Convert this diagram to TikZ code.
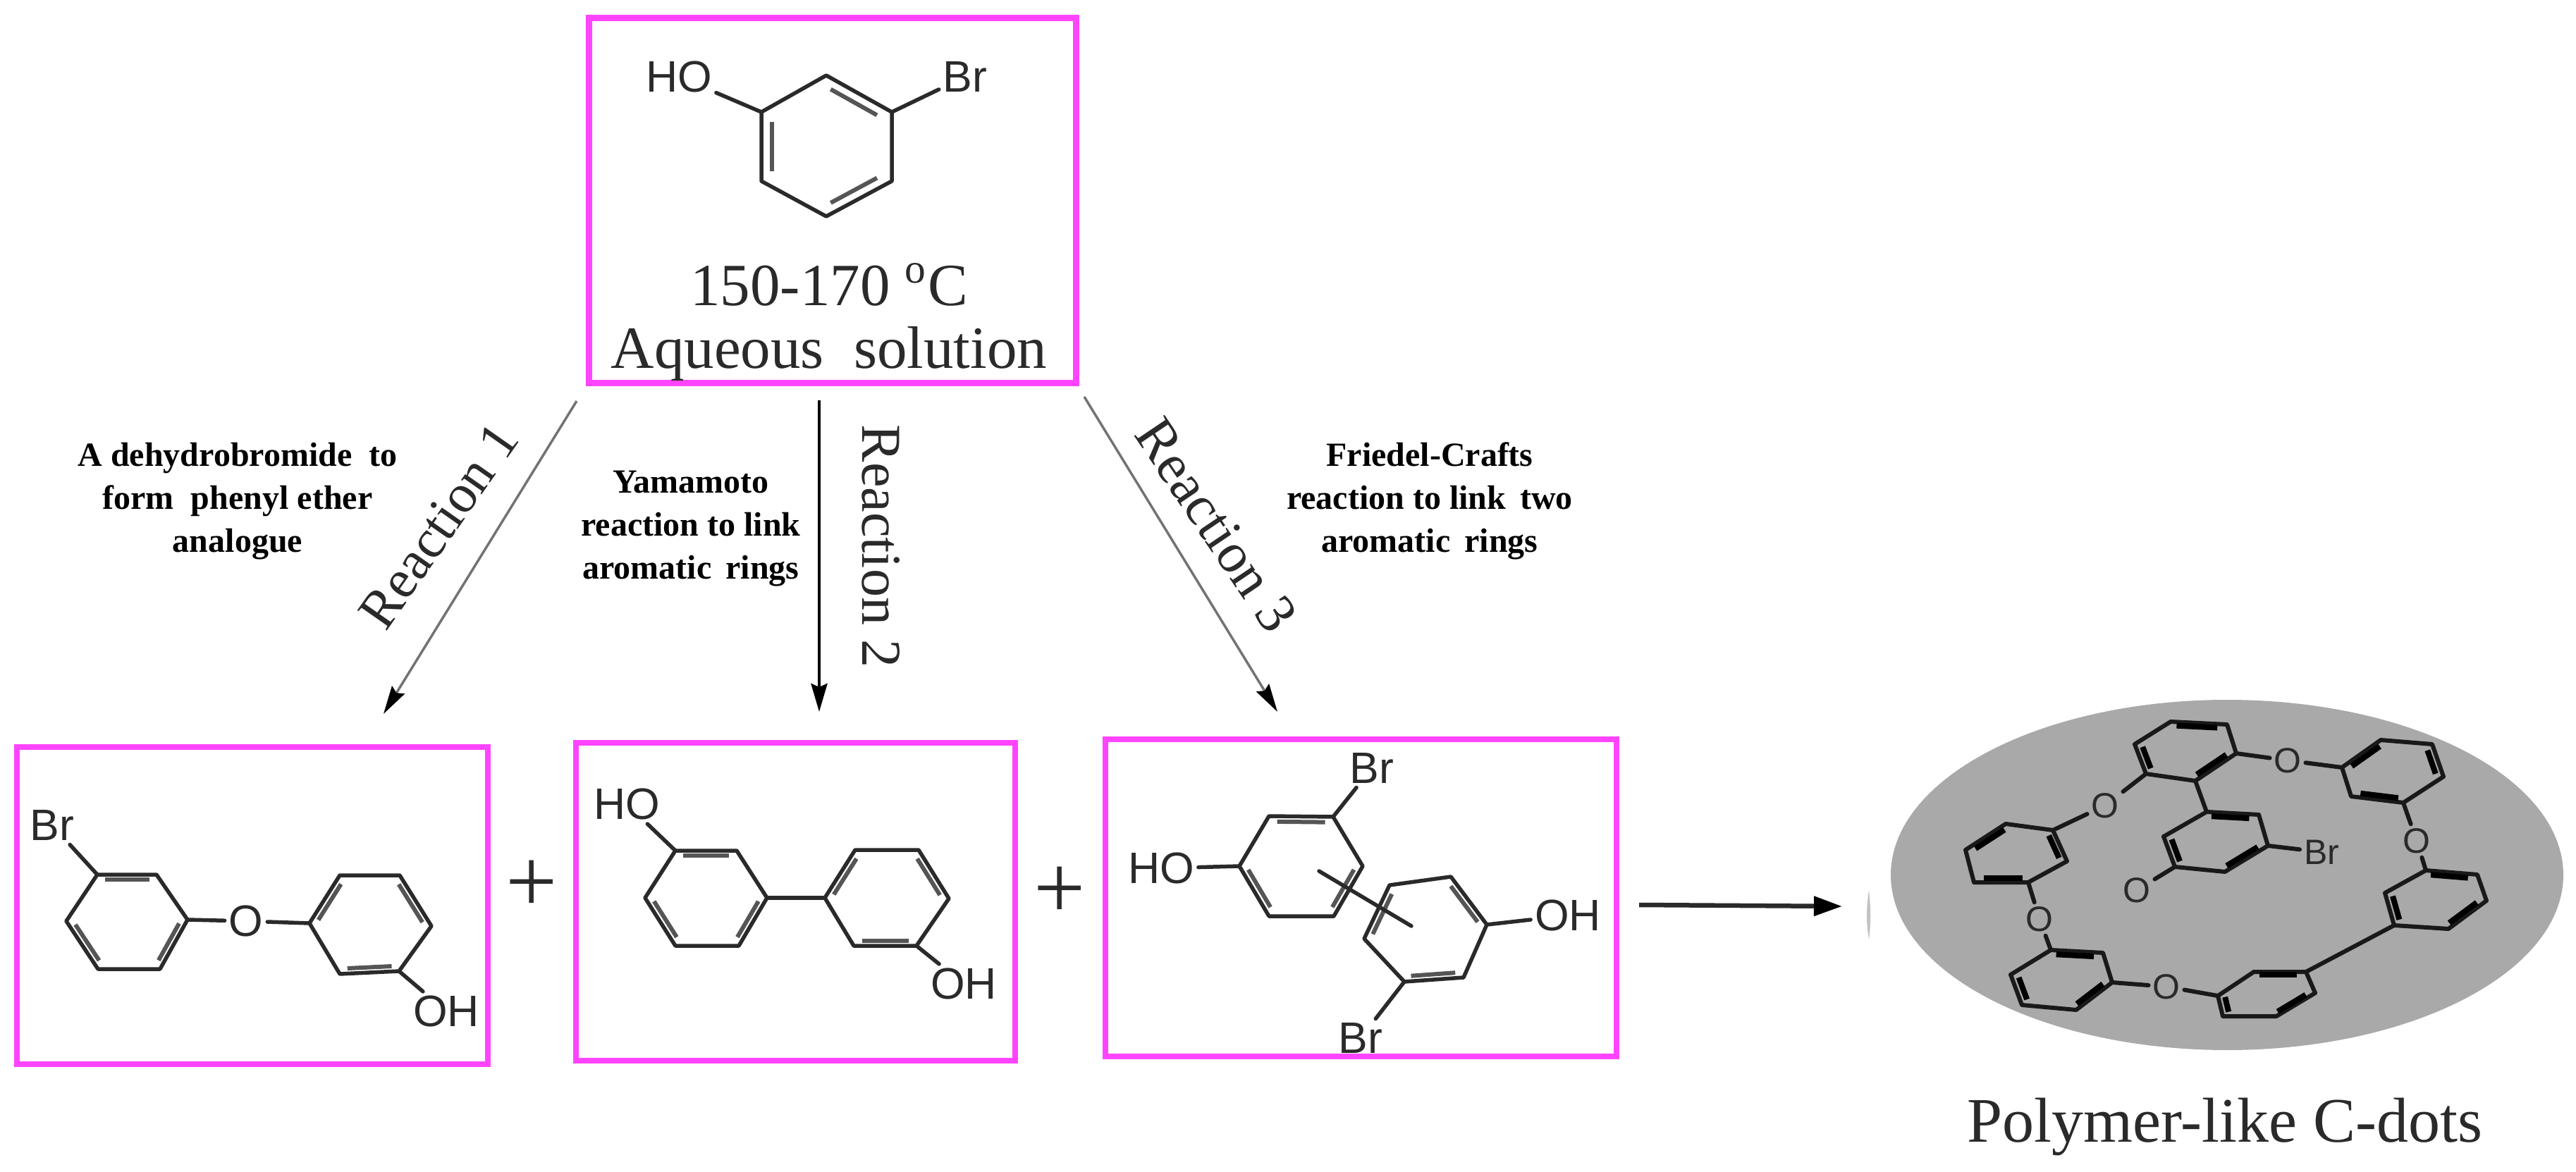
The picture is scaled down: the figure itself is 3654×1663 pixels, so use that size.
\documentclass[tikz,border=0pt]{standalone}
\usepackage{fontspec}
\setmainfont{Liberation Serif}
\newfontfamily\atomfont{Liberation Sans}
\usetikzlibrary{arrows.meta,calc,shapes.geometric}

\definecolor{boxpink}{HTML}{FF44FF}
\definecolor{dotgray}{HTML}{A9A9A9}
\definecolor{inkgray}{HTML}{2A2A2A}

\tikzset{
  pinkbox/.style={draw=boxpink,line width=1.5pt,minimum width=#1,inner sep=0pt},
  bondline/.style={draw=inkgray,line width=1.1pt,line join=round,line cap=round},
  innerbond/.style={draw=inkgray!80,line width=1.2pt,line cap=butt},
  atom/.style={font=\atomfont\fontsize{12.5}{12.5}\selectfont,text=inkgray,inner sep=1pt},
  smallatom/.style={font=\atomfont\fontsize{10}{10}\selectfont,text=inkgray,inner sep=1pt},
  rxnlabel/.style={font=\fontsize{#1}{16}\selectfont,text=inkgray,inner sep=0pt},
  rxnnote/.style={font=\bfseries\fontsize{9.6}{12.2}\selectfont,align=center,inner sep=0pt},
  condition/.style={font=\fontsize{17}{17.8}\selectfont,align=center,text=inkgray,inner sep=0pt},
  plusmark/.style={font=\fontsize{26}{26}\selectfont,text=inkgray,inner sep=0pt},
  thinarrow/.style={draw=black!55,line width=0.7pt,-{Stealth[length=8pt,width=4.2pt,inset=1pt,black]}},
  boldarrow/.style={draw=black,line width=0.9pt,-{Stealth[length=8pt,width=4.6pt,inset=1pt]}}
}

\newcommand{\hexring}[7]{
  \coordinate (#1a) at (#2);
  \coordinate (#1b) at (#3);
  \coordinate (#1c) at (#4);
  \coordinate (#1d) at (#5);
  \coordinate (#1e) at (#6);
  \coordinate (#1f) at (#7);
  \coordinate (#1m) at ($(#1a)!0.5!(#1d)$);
  \draw[bondline] (#1a) -- (#1b) -- (#1c) -- (#1d) -- (#1e) -- (#1f) -- cycle;
}
\newcommand{\dblbonds}[3][0.11]{
  \foreach \p/\q in {#3} {
    \draw[innerbond] ($(#2\p)!0.08!(#2\q)!#1!(#2m)$) -- ($(#2\q)!0.08!(#2\p)!#1!(#2m)$);
  }
}

\begin{document}
\begin{tikzpicture}[x=0.2pt,y=-0.2pt]
  \useasboundingbox (0,0) rectangle (3654,1663);

  \node[pinkbox=691*0.2pt,minimum height=518*0.2pt,line width=1.8pt] (startbox) at (1181,285) {};
  \node[pinkbox=668*0.2pt,minimum height=450*0.2pt] (etherbox) at (358,1285) {};
  \node[pinkbox=623*0.2pt,minimum height=451*0.2pt] (biarylbox) at (1128.5,1279.5) {};
  \node[pinkbox=725*0.2pt,minimum height=450*0.2pt] (friedelbox) at (1930.5,1274) {};

  \hexring{T}{1080,159}{1172,107}{1265,159}{1265,257}{1172,307}{1080,257}
  \dblbonds[0.16]{T}{f/a,b/c,d/e}
  \node[atom] (hoT) at (963,109) {HO};
  \node[atom] (brT) at (1369,109) {Br};
  \draw[bondline] (Ta) -- (hoT);
  \draw[bondline] (Tc) -- (brT);
  \node[condition] (condtext) at (1176,457) {150-170 \textsuperscript{o}C\\Aqueous\ \ solution};

  \hexring{A}{138,1241}{222,1241}{266,1305}{227,1375}{139,1375}{94,1307}
  \dblbonds{A}{a/b,c/d,e/f}
  \hexring{B}{439,1310}{482,1242}{567,1242}{612,1314}{566,1378}{482,1382}
  \dblbonds{B}{a/b,c/d,e/f}
  \node[atom] (brA) at (74,1171) {Br};
  \node[atom] (oAB) at (349,1307) {O};
  \node[atom] (ohB) at (633,1435) {OH};
  \draw[bondline] (Aa) -- (brA);
  \draw[bondline] (Ac) -- (oAB);
  \draw[bondline] (oAB) -- (Ba);
  \draw[bondline] (Be) -- (ohB);

  \hexring{C}{958,1207}{1045,1207}{1088,1274}{1048,1342}{958,1342}{915,1274}
  \dblbonds{C}{a/b,c/d,e/f}
  \hexring{D}{1170,1274}{1213,1206}{1303,1206}{1346,1275}{1300,1342}{1211,1342}
  \dblbonds{D}{a/b,c/d,e/f}
  \node[atom] (hoC) at (889,1141) {HO};
  \node[atom] (ohD) at (1367,1396) {OH};
  \draw[bondline] (Ca) -- (hoC);
  \draw[bondline] (Cc) -- (Da);
  \draw[bondline] (De) -- (ohD);

  \hexring{E}{1800,1158}{1891,1159}{1933,1229}{1892,1300}{1800,1300}{1758,1229}
  \dblbonds{E}{a/b,c/d,e/f}
  \hexring{F}{1971,1256}{2058,1244}{2109,1312}{2076,1387}{1992,1393}{1935,1332}
  \dblbonds{F}{f/a,b/c,d/e}
  \node[atom] (brE) at (1946,1090) {Br};
  \node[atom] (hoE) at (1647,1232) {HO};
  \node[atom] (ohF) at (2224,1299) {OH};
  \node[atom] (brF) at (1930,1473) {Br};
  \coordinate (linkstart) at (1871,1236);
  \coordinate (linkend) at (2002,1314);
  \draw[bondline] (Eb) -- (brE);
  \draw[bondline] (Ef) -- (hoE);
  \draw[bondline] (Fc) -- (ohF);
  \draw[bondline] (Fe) -- (brF);
  \draw[bondline] (linkstart) -- (linkend);

  \node[plusmark] (plusone) at (754,1258) {+};
  \node[plusmark] (plustwo) at (1503,1267) {+};

  \coordinate (arrowonestart) at (818,569);
  \coordinate (arrowoneend) at (544,1013);
  \coordinate (arrowtwostart) at (1162,568);
  \coordinate (arrowtwoend) at (1162,1010);
  \coordinate (arrowthreestart) at (1538,563);
  \coordinate (arrowthreeend) at (1812,1010);
  \coordinate (arrowfourstart) at (2325,1284);
  \coordinate (arrowfourend) at (2613,1286);
  \draw[thinarrow] (arrowonestart) -- (arrowoneend);
  \draw[boldarrow] (arrowtwostart) -- (arrowtwoend);
  \draw[thinarrow] (arrowthreestart) -- (arrowthreeend);
  \draw[draw=inkgray,line width=1.3pt,-{Stealth[length=8pt,width=5.4pt,inset=0pt,black]}] (arrowfourstart) -- (arrowfourend);

  \node[rxnlabel=15.5,rotate=55] (rxnone) at (622,746) {Reaction 1};
  \node[rxnlabel=16,rotate=-90] (rxntwo) at (1250,775) {Reaction 2};
  \node[rxnlabel=16,rotate=-56] (rxnthree) at (1725,745) {Reaction 3};

  \node[rxnnote] (noteone) at (337,711) {A dehydrobromide\ \ to\\form\ \ phenyl ether\\analogue};
  \node[rxnnote] (notetwo) at (980,750) {Yamamoto\\reaction to link\\aromatic\ \,rings};
  \node[rxnnote] (notethree) at (2028,711) {Friedel-Crafts\\reaction to link\ \,two\\aromatic\ \,rings};

  \fill[dotgray!70] (2651,1263) .. controls (2647,1290) and (2647,1310) .. (2651,1333) .. controls (2654,1310) and (2654,1290) .. (2651,1263);
  \node[ellipse,fill=dotgray,minimum width=954*0.2pt,minimum height=497*0.2pt,inner sep=0pt] (dotshape) at (3159,1241.5) {};

  \begin{scope}[bondline/.append style={draw=black!90,line width=1.2pt},innerbond/.append style={draw=black,line width=1.6pt}]
    \hexring{P}{3028,1056}{3079,1024}{3159,1028}{3172,1069}{3114,1108}{3044,1098}
    \dblbonds[0.14]{P}{b/c,d/e,f/a}
    \hexring{Q}{2845,1169}{2912,1178}{2932,1222}{2877,1252}{2800,1252}{2788,1206}
    \dblbonds[0.14]{Q}{f/a,b/c,d/e}
    \hexring{R}{2909,1348}{2983,1352}{2996,1394}{2945,1433}{2868,1426}{2852,1383}
    \dblbonds[0.14]{R}{a/b,c/d,e/f}
    \hexring{S}{3146,1413}{3197,1379}{3271,1379}{3284,1409}{3229,1442}{3153,1442}
    \dblbonds[0.14]{S}{b/c,d/e,f/a}
    \hexring{U}{3396,1313}{3383,1267}{3441,1235}{3514,1241}{3527,1278}{3473,1318}
    \dblbonds[0.14]{U}{a/b,c/d,e/f}
    \hexring{V}{3322,1089}{3377,1050}{3450,1056}{3466,1102}{3409,1139}{3335,1130}
    \dblbonds[0.14]{V}{a/b,c/d,e/f}
    \hexring{W}{3130,1152}{3204,1156}{3217,1200}{3156,1237}{3085,1230}{3069,1187}
    \dblbonds[0.14]{W}{a/b,c/d,e/f}

    \node[smallatom] (oPQ) at (2986,1143) {O};
    \node[smallatom] (oPV) at (3245,1079) {O};
    \node[smallatom] (oQR) at (2893,1304) {O};
    \node[smallatom] (oRS) at (3073,1400) {O};
    \node[smallatom] (oVU) at (3428,1193) {O};
    \node[smallatom] (oW) at (3031,1263) {O};
    \node[smallatom] (brW) at (3293,1209) {Br};
    \draw[bondline] (Pf) -- (oPQ);
    \draw[bondline] (oPQ) -- (Qb);
    \draw[bondline] (Pd) -- (oPV);
    \draw[bondline] (oPV) -- (Va);
    \draw[bondline] (Qd) -- (oQR);
    \draw[bondline] (oQR) -- (Ra);
    \draw[bondline] (Rc) -- (oRS);
    \draw[bondline] (oRS) -- (Sa);
    \draw[bondline] (Sc) -- (Ua);
    \draw[bondline] (Ve) -- (oVU);
    \draw[bondline] (oVU) -- (Uc);
    \draw[bondline] (Pe) -- (Wa);
    \draw[bondline] (We) -- (oW);
    \draw[bondline] (Wc) -- (brW);
  \end{scope}

  \node[font=\fontsize{18}{18}\selectfont,text=inkgray,inner sep=0pt,anchor=base] (dotlabel) at (3156,1620) {Polymer-like C-dots};
\end{tikzpicture}
\end{document}
